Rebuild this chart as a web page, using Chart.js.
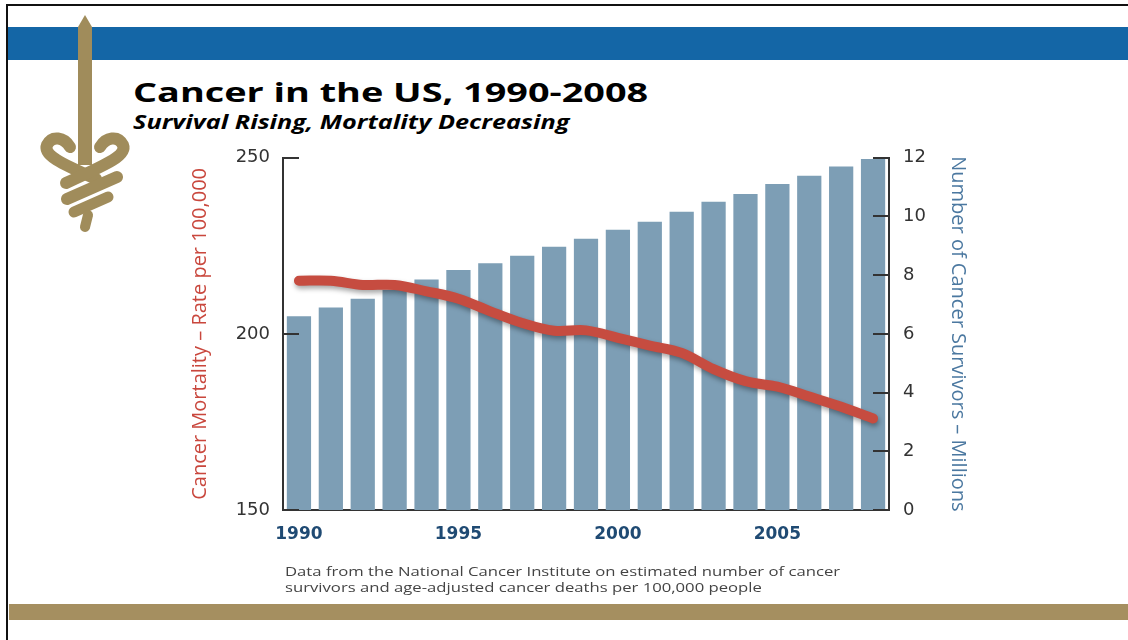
<!DOCTYPE html>
<html lang="en">
<head>
    <meta charset="UTF-8">
    <title>Cancer in the US, 1990-2008</title>
    <script src="https://cdn.jsdelivr.net/npm/chart.js"></script>
    <style>
        html, body {
            margin: 0;
            padding: 0;
            background: #fff;
        }
        .slide {
            position: relative;
            width: 1128px;
            height: 640px;
            overflow: hidden;
            font-family: "Open Sans", sans-serif;
        }
        .frame-top {
            position: absolute; left: 6px; top: 4px; width: 1122px; height: 2px; background: #111;
        }
        .frame-left {
            position: absolute; left: 6px; top: 4px; width: 2px; height: 636px; background: #111;
        }
        .band-blue {
            position: absolute; left: 8px; top: 27px; width: 1120px; height: 33px; background: #1466a6;
        }
        .band-gold {
            position: absolute; left: 9px; top: 604px; width: 1119px; height: 16px; background: #a58f60;
        }
        .logo {
            position: absolute; left: 36px; top: 10px;
        }
        /* the slide is stretched sideways, so the texts are too */
        h1 {
            position: absolute;
            left: 133px; top: 75px;
            margin: 0;
            font-family: "Open Sans", sans-serif;
            font-weight: 700;
            font-size: 27px;
            line-height: 34px;
            color: #000;
            white-space: nowrap;
            transform: scaleX(1.4);
            transform-origin: left top;
        }
        h2 {
            position: absolute;
            left: 133px; top: 109px;
            margin: 0;
            font-family: "Open Sans", sans-serif;
            font-weight: 700;
            font-style: italic;
            font-size: 19px;
            line-height: 26px;
            color: #000;
            white-space: nowrap;
            transform: scaleX(1.33);
            transform-origin: left top;
        }
        .note {
            position: absolute;
            left: 285px; top: 563px;
            font-size: 13.5px;
            line-height: 16px;
            color: #444;
            white-space: nowrap;
            transform: scaleX(1.235);
            transform-origin: left top;
        }
        .chart-box {
            position: absolute;
            left: 180px; top: 133px;
            width: 800px; height: 447px;
        }
    </style>
</head>
<body>
<div class="slide">
    <div class="band-blue"></div>
    <div class="band-gold"></div>
    <div class="frame-top"></div>
    <div class="frame-left"></div>

    <!-- sword and snake emblem -->
    <svg class="logo" width="100" height="230" viewBox="36 10 100 230">
        <g fill="none" stroke="#a08c5b" stroke-linecap="round" stroke-linejoin="round">
            <path d="M85 15 L92 27 L92 165 L78 165 L78 27 Z" fill="#a08c5b" stroke="none"/>
            <path d="M70 147 C64 137 52 135 47 145 C43 155 60 163 96 179" stroke-width="12"/>
            <path d="M100 147 C106 137 118 135 123 145 C127 155 110 163 66 183" stroke-width="12"/>
            <path d="M117 177 L67 199" stroke-width="12"/>
            <path d="M108 197 L74 212" stroke-width="11"/>
            <path d="M88 215 L85 227" stroke-width="10"/>
        </g>
    </svg>

    <h1>Cancer in the US, 1990-2008</h1>
    <h2>Survival Rising, Mortality Decreasing</h2>

    <div class="chart-box">
        <canvas id="cancerChart"></canvas>
    </div>

    <div class="note">
        Data from the National Cancer Institute on estimated number of cancer<br>
        survivors and age-adjusted cancer deaths per 100,000 people
    </div>
</div>

<script>
    // years on the x axis
    const years = ['1990', '1991', '1992', '1993', '1994', '1995', '1996', '1997', '1998', '1999',
                   '2000', '2001', '2002', '2003', '2004', '2005', '2006', '2007', '2008'];
    const shownYears = ['1990', '1995', '2000', '2005'];

    // survivors in millions (bars, right axis)
    const survivors = [6.6, 6.9, 7.2, 7.5, 7.85, 8.18, 8.41, 8.66, 8.97, 9.24,
                       9.55, 9.82, 10.16, 10.5, 10.77, 11.11, 11.39, 11.7, 11.96];

    // age-adjusted deaths per 100,000 (line, left axis)
    const mortality = [215.1, 215.1, 213.9, 213.9, 212.1, 210.0, 206.4, 203.1, 200.9, 201.0,
                       198.9, 196.7, 194.6, 190.0, 186.6, 185.0, 182.2, 179.3, 176.0];

    const mortalityTicks = [150, 200, 250];
    const survivorTicks = [0, 2, 4, 6, 8, 10, 12];

    // small inward tick marks on both value axes
    const innerTicks = {
        id: 'innerTicks',
        afterDraw(chart) {
            const ctx = chart.ctx;
            const left = chart.scales.y;
            const right = chart.scales.y1;
            ctx.save();
            ctx.strokeStyle = '#333';
            ctx.lineWidth = 2;
            ctx.beginPath();
            mortalityTicks.forEach(v => {
                const y = Math.round(left.getPixelForValue(v));
                ctx.moveTo(left.right - 1, y);
                ctx.lineTo(left.right + 16, y);
            });
            survivorTicks.forEach(v => {
                const y = Math.round(right.getPixelForValue(v));
                ctx.moveTo(right.left + 1, y);
                ctx.lineTo(right.left - 16, y);
            });
            ctx.stroke();
            ctx.restore();
        }
    };

    // soft shadow under the mortality line
    const lineShadow = {
        id: 'lineShadow',
        beforeDatasetDraw(chart, args) {
            if (args.index !== 0) return;
            const ctx = chart.ctx;
            ctx.save();
            ctx.shadowColor = 'rgba(0, 0, 0, 0.35)';
            ctx.shadowBlur = 5;
            ctx.shadowOffsetX = 1;
            ctx.shadowOffsetY = 3;
        },
        afterDatasetDraw(chart, args) {
            if (args.index !== 0) return;
            chart.ctx.restore();
        }
    };

    const ctx = document.getElementById('cancerChart').getContext('2d');
    new Chart(ctx, {
        type: 'bar',
        data: {
            labels: years,
            datasets: [{
                type: 'line',
                label: 'Cancer Mortality',
                data: mortality,
                yAxisID: 'y',
                borderColor: '#c64c40',
                borderWidth: 10,
                borderCapStyle: 'round',
                borderJoinStyle: 'round',
                pointRadius: 0,
                tension: 0.35,
                fill: false,
                order: 0
            }, {
                label: 'Cancer Survivors',
                data: survivors,
                yAxisID: 'y1',
                backgroundColor: '#7d9eb5',
                barPercentage: 0.76,
                categoryPercentage: 1,
                order: 1
            }]
        },
        options: {
            responsive: true,
            maintainAspectRatio: false,
            animation: false,
            layout: {
                padding: { top: 11, left: 0, right: 0, bottom: 0 }
            },
            plugins: {
                legend: { display: false },
                tooltip: { enabled: false }
            },
            scales: {
                x: {
                    grid: { display: false, drawTicks: false },
                    border: { display: true, color: '#333', width: 2 },
                    ticks: {
                        autoSkip: false,
                        maxRotation: 0,
                        padding: 14,
                        color: '#1f4a73',
                        font: { family: 'DejaVu Sans', size: 17, weight: 'bold' },
                        callback: function (value) {
                            const y = this.getLabelForValue(value);
                            return shownYears.includes(y) ? y : '';
                        }
                    },
                    afterFit(scale) { scale.height = 70; }
                },
                y: {
                    position: 'left',
                    min: 150,
                    max: 250,
                    grid: { display: false, drawTicks: false },
                    border: { display: true, color: '#333', width: 2 },
                    ticks: {
                        stepSize: 50,
                        padding: 13,
                        color: '#333',
                        font: { family: 'DejaVu Sans', size: 18 }
                    },
                    title: {
                        display: true,
                        text: 'Cancer Mortality \u2013 Rate per 100,000',
                        color: '#c9473d',
                        font: { family: 'Open Sans', size: 20 },
                        padding: { top: 8, bottom: 0 }
                    },
                    afterFit(scale) { scale.width = 103; }
                },
                y1: {
                    position: 'right',
                    min: 0,
                    max: 12,
                    grid: { display: false, drawTicks: false },
                    border: { display: true, color: '#333', width: 2 },
                    ticks: {
                        stepSize: 2,
                        padding: 14,
                        color: '#333',
                        font: { family: 'DejaVu Sans', size: 18 }
                    },
                    title: {
                        display: true,
                        text: 'Number of Cancer Survivors \u2013 Millions',
                        color: '#4b78a0',
                        font: { family: 'Open Sans', size: 20 },
                        padding: { top: 10, bottom: 0 }
                    },
                    afterFit(scale) { scale.width = 91; }
                }
            }
        },
        plugins: [innerTicks, lineShadow]
    });
</script>
</body>
</html>
